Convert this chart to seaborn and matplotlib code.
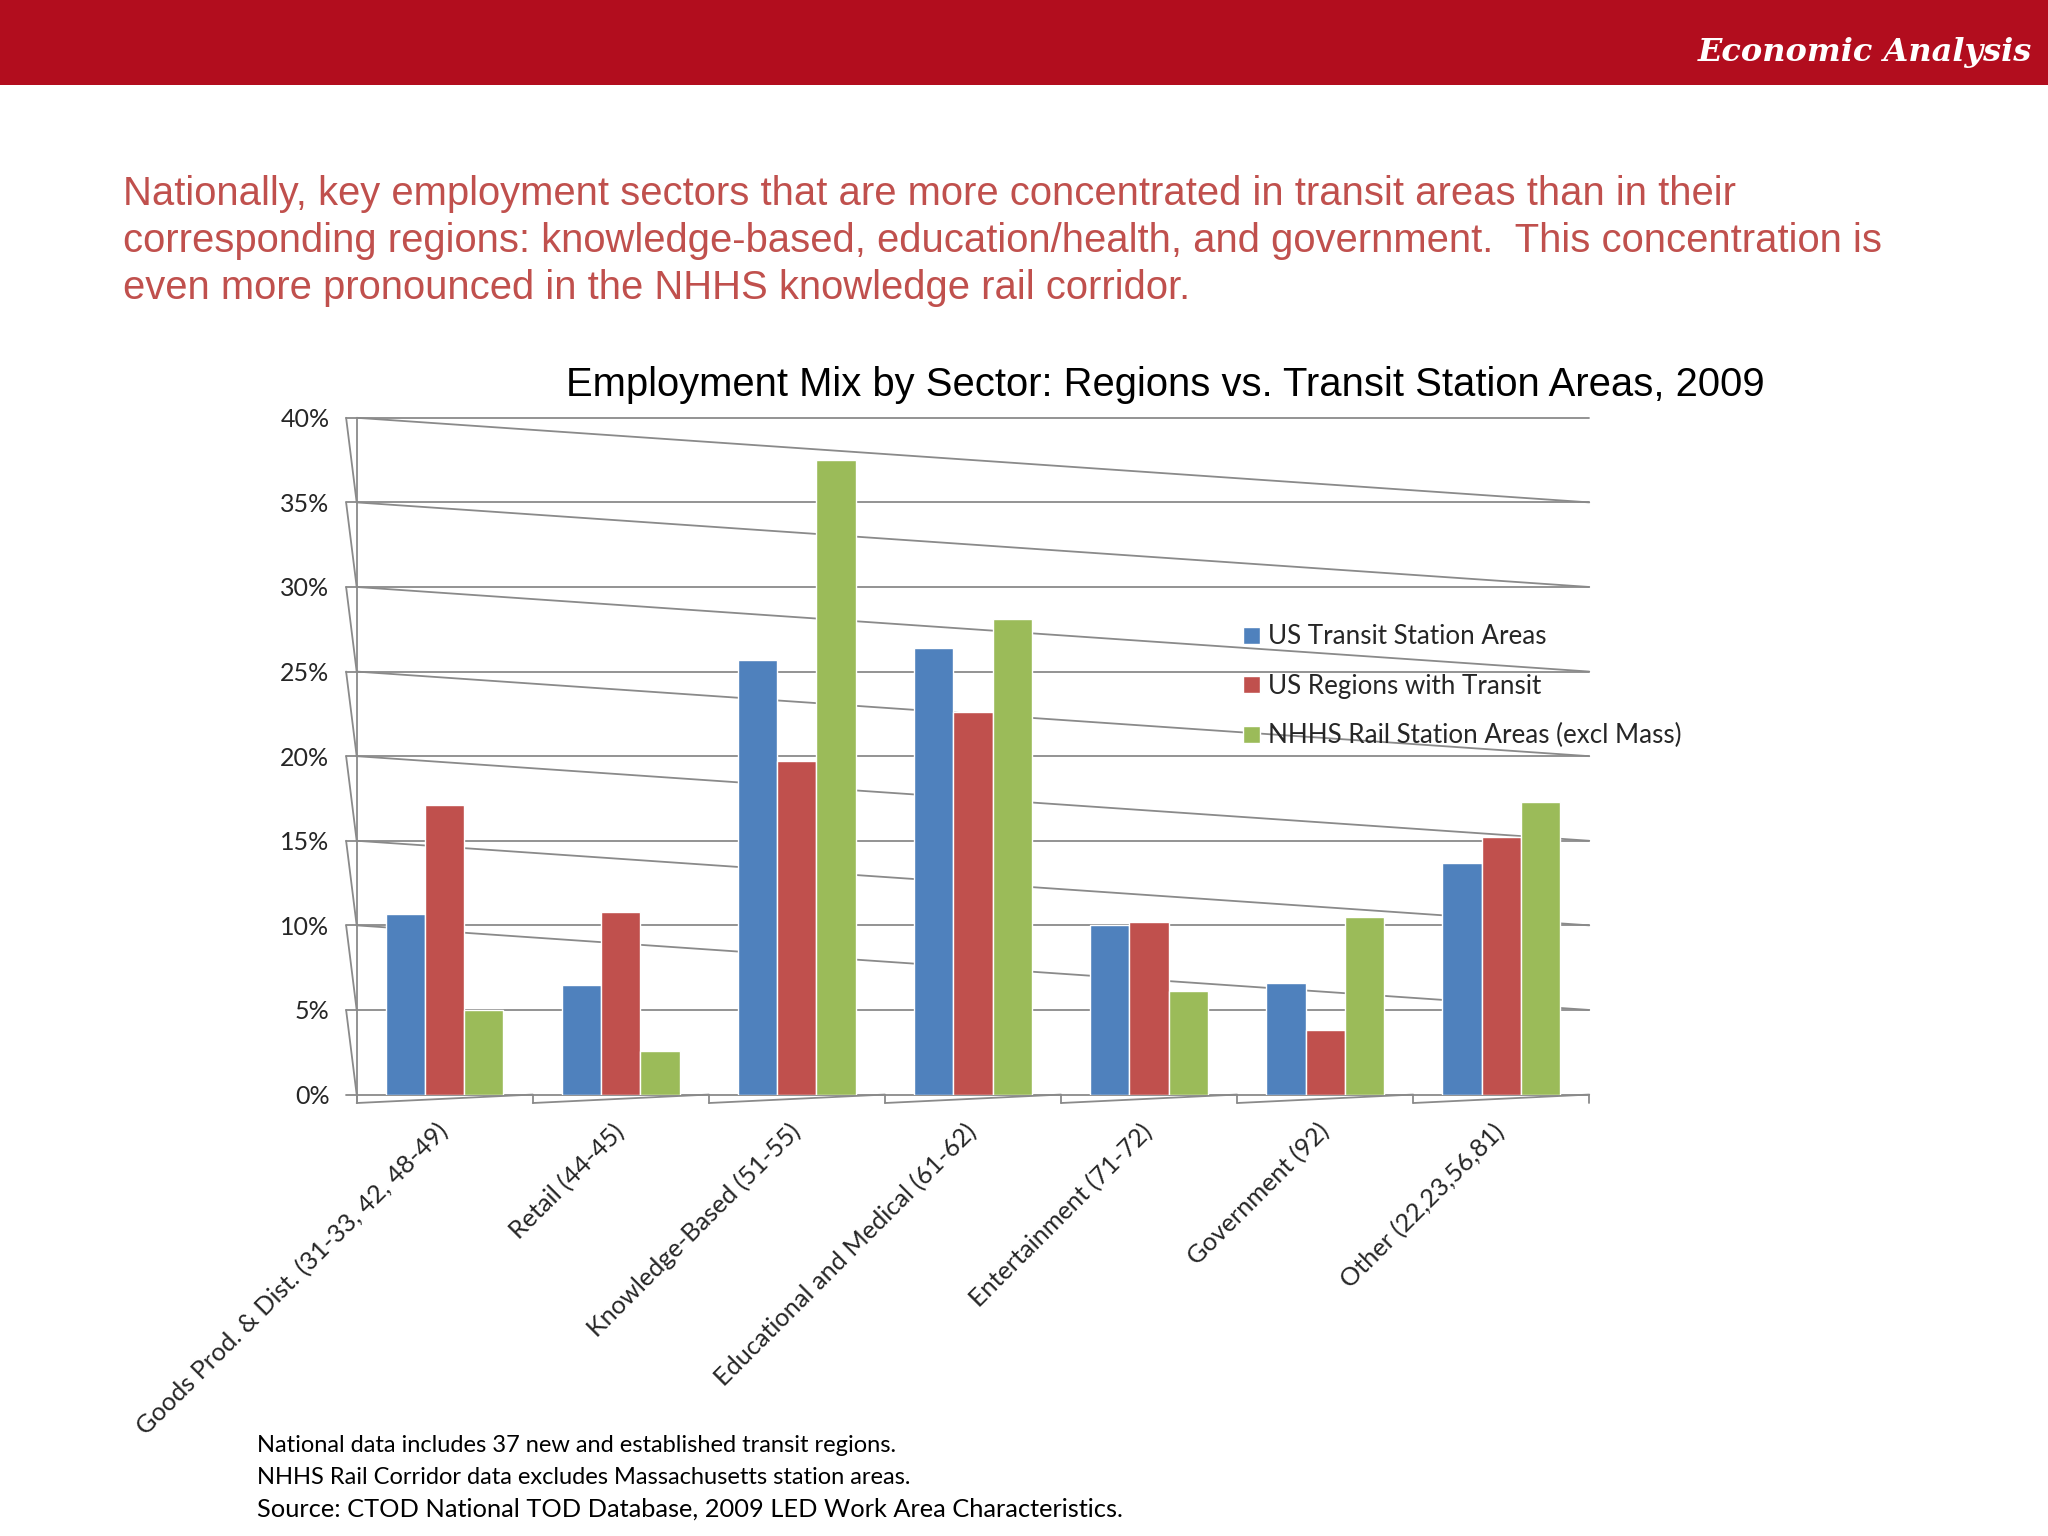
import pandas as pd
import matplotlib.pyplot as plt
import seaborn as sns
from matplotlib.patches import Rectangle

# Chart data (% of employment)
sectors = [
    "Goods Prod. & Dist. (31-33, 42, 48-49)",
    "Retail (44-45)",
    "Knowledge-Based (51-55)",
    "Educational and Medical (61-62)",
    "Entertainment (71-72)",
    "Government (92)",
    "Other (22,23,56,81)",
]
series_names = [
    "US Transit Station Areas",
    "US Regions with Transit",
    "NHHS Rail Station Areas (excl Mass)",
]
us_transit_station = [10.7, 6.5, 25.7, 26.4, 10.0, 6.6, 13.7]
us_regions_transit = [17.1, 10.8, 19.7, 22.6, 10.2, 3.8, 15.2]
nhhs_rail_station = [5.0, 2.6, 37.5, 28.1, 6.1, 10.5, 17.3]
y_ticks = [0, 5, 10, 15, 20, 25, 30, 35, 40]

colors = ["#4F81BD", "#C0504D", "#9BBB59"]
grid_col = "#8A8A8A"

df = pd.DataFrame({
    "sector": sectors * 3,
    "series": [s for s in series_names for _ in sectors],
    "value": us_transit_station + us_regions_transit + nhhs_rail_station,
})

sns.set_theme(style="white")
plt.rcParams["font.family"] = ["Lato", "DejaVu Sans"]

fig = plt.figure(figsize=(20.48, 15.36), dpi=100)
fig.patch.set_facecolor("white")

# red banner on top
fig.patches.append(Rectangle((0, 0.9447), 1, 0.0553, transform=fig.transFigure,
                             facecolor="#B20D1E", edgecolor="none", zorder=0))
fig.text(0.992, 0.966, "Economic Analysis", color="white", ha="right", va="center",
         fontsize=23, family="DejaVu Serif", style="italic", weight="bold")

headline = [
    "Nationally, key employment sectors that are more concentrated in transit areas than in their",
    "corresponding regions: knowledge-based, education/health, and government.  This concentration is",
    "even more pronounced in the NHHS knowledge rail corridor.",
]
for i, line in enumerate(headline):
    fig.text(0.06, 0.874 - i * 0.0307, line, color="#C0504D", ha="left", va="center",
             fontsize=28.8, family="Liberation Sans")

fig.text(0.569, 0.7495, "Employment Mix by Sector: Regions vs. Transit Station Areas, 2009",
         ha="center", va="center", fontsize=28.8, family="Liberation Sans", color="black")

ax = fig.add_axes([0.169, 0.2874, 0.776 - 0.169, 0.728 - 0.2874])
sns.barplot(data=df, x="sector", y="value", hue="series", order=sectors,
            hue_order=series_names, palette=colors, width=0.667, gap=0,
            saturation=1, ax=ax, zorder=3)

old = ax.get_legend()
handles = old.legend_handles
labels = [t.get_text() for t in old.get_texts()]
old.remove()

x_left, x_wall, x_right = -0.56, -0.5, len(sectors) - 0.5
ax.set_xlim(x_left, x_right)
ax.set_ylim(0, 40)
for s in ax.spines.values():
    s.set_visible(False)

lw = 1.3
# back wall gridlines
for v in y_ticks:
    ax.plot([x_left, x_right], [v, v], color=grid_col, lw=lw, zorder=1, clip_on=False)
# perspective lines of the pseudo-3D frame
for v in y_ticks[2:]:
    ax.plot([x_wall, x_right], [v, v - 5], color=grid_col, lw=lw, zorder=1, clip_on=False)
for v in y_ticks[1:]:
    ax.plot([x_left, x_wall], [v, v - 5], color=grid_col, lw=lw, zorder=1, clip_on=False)
ax.plot([x_wall, x_wall], [-0.5, 40], color=grid_col, lw=lw, zorder=1, clip_on=False)
# floor front edge
for i in range(len(sectors) + 1):
    ax.plot([i - 0.5, i - 0.5], [0, -0.5], color=grid_col, lw=lw, clip_on=False)
    if i < len(sectors):
        ax.plot([i - 0.5, i + 0.5], [-0.5, 0], color=grid_col, lw=lw, clip_on=False)

ax.set_yticks(y_ticks)
ax.set_yticklabels([f"{v}%" for v in y_ticks], fontsize=18)
ax.tick_params(axis="y", length=0, pad=12)
ax.set_xticks(range(len(sectors)))
ax.set_xticklabels(sectors, rotation=45, ha="right", va="center",
                   rotation_mode="anchor", fontsize=18.2)
ax.tick_params(axis="x", length=0, pad=24)
ax.set_xlabel("")
ax.set_ylabel("")

fig.legend(handles, labels, loc="upper left", bbox_to_anchor=(0.607, 0.5935),
           frameon=False, fontsize=18.7, handlelength=0.65, handleheight=0.65,
           handletextpad=0.3, labelspacing=0.94, borderpad=0, borderaxespad=0)

notes = [
    ("National data includes 37 new and established transit regions.", 17),
    ("NHHS Rail Corridor data excludes Massachusetts station areas.", 17),
    ("Source: CTOD National TOD Database, 2009 LED Work Area Characteristics.", 18.3),
]
for i, (txt, fs) in enumerate(notes):
    fig.text(0.1255, 0.0586 - i * 0.0205, txt, ha="left", va="center", fontsize=fs,
             color="black")

fig.savefig("out.png", dpi=100)
plt.close()
